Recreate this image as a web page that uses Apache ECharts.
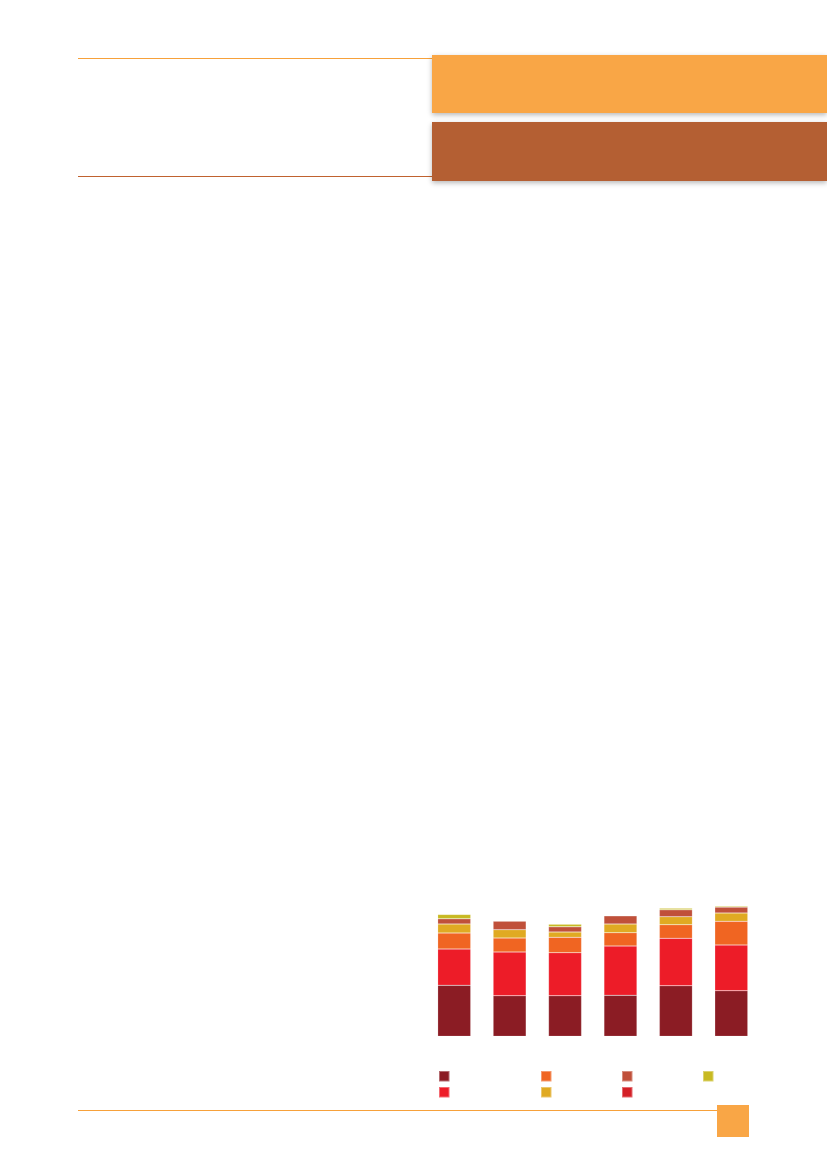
<!DOCTYPE html>
<html>
<head>
<meta charset="utf-8">
<script src="https://cdn.jsdelivr.net/npm/echarts@6/dist/echarts.min.js"></script>
<style>
  html, body { margin: 0; padding: 0; background: #fff; }
  #main { width: 827px; height: 1169px; }
</style>
</head>
<body>
<div id="main"></div>
<script>
// categories (labels not printed in the picture)
var categories = ['1', '2', '3', '4', '5', '6'];

// stacked values, bottom to top
var seriesNames = ['A', 'B', 'C', 'D', 'E', 'F', 'G'];
var valA = [51.0, 40.6, 40.6, 41.0, 50.6, 45.6];
var valB = [36.3, 43.7, 43.0, 49.3, 47.4, 45.7];
var valC = [16.0, 14.0, 15.4, 13.3, 13.6, 23.7];
var valD = [9.0, 8.3, 5.3, 8.7, 8.0, 8.3];
var valE = [5.3, 8.7, 5.3, 8.3, 7.0, 6.0];
var valF = [0, 0, 0, 0, 0, 0];
var valG = [4.3, 0, 2.4, 0, 1.4, 1.0];

var colors = ['#8B1C24', '#ED1C28', '#F06522', '#E0AA22', '#C0503A', '#D42027', '#C8BA22'];
var values = [valA, valB, valC, valD, valE, valF, valG];

// legend square positions (column-major as in the picture)
var legendPos = [
    [438, 1070], [438, 1086],
    [540, 1070], [540, 1086],
    [621, 1070], [621, 1086],
    [702, 1070]
];

var series = [];
var legends = [];
for (var i = 0; i < seriesNames.length; i++) {
    series.push({
        name: seriesNames[i],
        type: 'bar',
        stack: 'total',
        barWidth: 33,
        data: values[i],
        itemStyle: { color: colors[i], borderColor: 'rgba(255,255,255,0.35)', borderWidth: 0.5 },
        emphasis: { disabled: true }
    });
    legends.push({
        data: [seriesNames[i]],
        left: legendPos[i][0],
        top: legendPos[i][1],
        padding: 0,
        icon: 'rect',
        itemWidth: 10.5,
        itemHeight: 10.5,
        selectedMode: false,
        formatter: function () { return ''; },
        textStyle: { fontSize: 8 }
    });
}

var shadow = { shadowBlur: 5, shadowOffsetX: 0, shadowOffsetY: 2, shadowColor: 'rgba(0,0,0,0.28)' };

var chart = echarts.init(document.getElementById('main'), null, { renderer: 'canvas' });
chart.setOption({
    backgroundColor: '#ffffff',
    animation: false,
    color: colors,
    grid: { left: 426.5, width: 332.5, top: 896.3, height: 140 },
    xAxis: {
        type: 'category',
        data: categories,
        axisLine: { show: false },
        axisTick: { show: false },
        axisLabel: { show: false }
    },
    yAxis: {
        type: 'value',
        min: 0,
        max: 140,
        show: false
    },
    legend: legends,
    series: series,
    graphic: [
        // header
        { type: 'line', shape: { x1: 78, y1: 58.5, x2: 432, y2: 58.5 }, style: { stroke: '#F7A13A', lineWidth: 1 } },
        { type: 'line', shape: { x1: 78, y1: 176.5, x2: 432, y2: 176.5 }, style: { stroke: '#C0622F', lineWidth: 1 } },
        { type: 'rect', shape: { x: 432, y: 55, width: 395, height: 58 }, style: Object.assign({ fill: '#F9A646' }, shadow) },
        { type: 'rect', shape: { x: 432, y: 122, width: 395, height: 59 }, style: Object.assign({ fill: '#B45F33' }, shadow) },
        // footer
        { type: 'line', shape: { x1: 78, y1: 1110.5, x2: 718, y2: 1110.5 }, style: { stroke: '#F7A13A', lineWidth: 1 } },
        { type: 'rect', shape: { x: 717, y: 1105, width: 32, height: 32 }, style: { fill: '#F9A646' } }
    ]
});
</script>
</body>
</html>
